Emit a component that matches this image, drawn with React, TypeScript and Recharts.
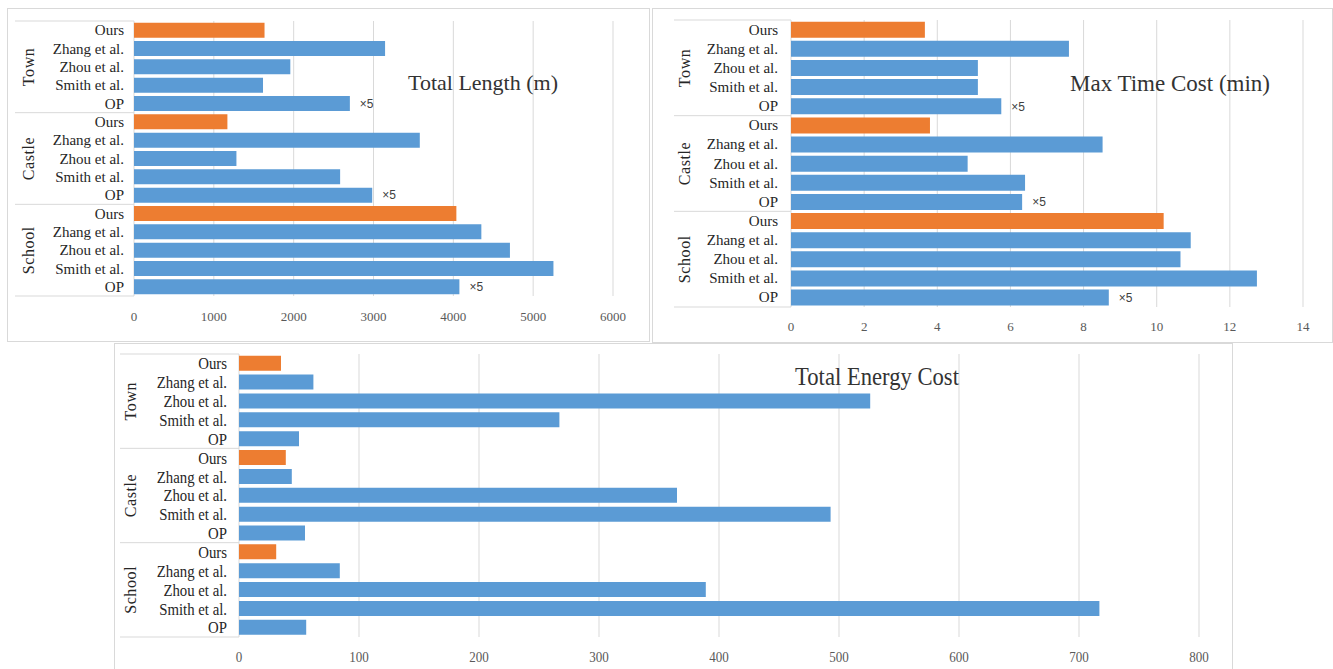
import React from "react";
import {
  BarChart,
  Bar,
  XAxis,
  YAxis,
  CartesianGrid,
  Cell,
  LabelList,
} from "recharts";

const scenes = ["Town", "Castle", "School"];
const methods = ["Ours", "Zhang et al.", "Zhou et al.", "Smith et al.", "OP"];

// one value per (scene, method), scene by scene, methods top to bottom
const totalLength = [
  1635, 3145, 1958, 1616, 2704,
  1170, 3580, 1283, 2582, 2984,
  4038, 4351, 4709, 5254, 4076,
];
const maxTimeCost = [
  3.66, 7.6, 5.11, 5.11, 5.75,
  3.8, 8.52, 4.83, 6.4, 6.32,
  10.19, 10.93, 10.65, 12.74, 8.69,
];
const totalEnergy = [
  35, 62, 526, 267, 50,
  39, 44, 365, 493, 55,
  31, 84, 389, 717, 56,
];

const lengthTicks = [0, 1000, 2000, 3000, 4000, 5000, 6000];
const timeTicks = [0, 2, 4, 6, 8, 10, 12, 14];
const energyTicks = [0, 100, 200, 300, 400, 500, 600, 700, 800];

// OP bars in the length / time charts are shown scaled down
const opNote = "×5";

const BLUE = "#5b9bd5";
const ORANGE = "#ed7d31";
const GRID = "#d9d9d9";
const SERIF = '"Liberation Serif", "Times New Roman", serif';
const X_AXIS_HEIGHT = 25;

function buildRows(values: number[], note: string) {
  return values.map((value, i) => {
    const scene = scenes[Math.floor(i / methods.length)];
    const method = methods[i % methods.length];
    return {
      key: `${scene}|${method}`,
      value,
      note: method === "OP" ? note : "",
    };
  });
}

function CategoryTick(props: any) {
  const { x, y, payload, step, axisRight, sepLeft, groupX, squeeze, fontSize } =
    props;
  const [scene, method] = String(payload.value).split("|");
  const pos = methods.indexOf(method);
  const isLast = scene === scenes[scenes.length - 1] && pos === methods.length - 1;
  return (
    <g>
      <text
        transform={`translate(${x},${y}) scale(${squeeze},1)`}
        textAnchor="end"
        dominantBaseline="central"
        fontFamily={SERIF}
        fontSize={fontSize}
        fill="#262626"
      >
        {method}
      </text>
      {pos === 0 && (
        <line
          x1={sepLeft}
          x2={axisRight}
          y1={y - step / 2}
          y2={y - step / 2}
          stroke={GRID}
        />
      )}
      {isLast && (
        <line
          x1={sepLeft}
          x2={axisRight}
          y1={y + step / 2}
          y2={y + step / 2}
          stroke={GRID}
        />
      )}
      {pos === 2 && (
        <text
          transform={`translate(${groupX},${y}) rotate(-90)`}
          textAnchor="middle"
          dominantBaseline="central"
          fontFamily={SERIF}
          fontSize={16}
          letterSpacing={0.6}
          fill="#262626"
        >
          {scene}
        </text>
      )}
    </g>
  );
}

function NumberTick(props: any) {
  const { x, y, payload, squeeze, fontSize } = props;
  return (
    <text
      transform={`translate(${x},${y}) scale(${squeeze},1)`}
      textAnchor="middle"
      dominantBaseline="central"
      fontFamily={SERIF}
      fontSize={fontSize}
      fill="#595959"
    >
      {payload.value}
    </text>
  );
}

interface PanelProps {
  left: number;
  top: number;
  width: number;
  height: number;
  values: number[];
  ticks: number[];
  note: string;
  title: string;
  titleX: number;
  titleY: number;
  titleSize: number;
  squeeze: number;
  labelSize: number;
  numberSize: number;
  margin: { top: number; right: number; bottom: number; left: number };
  yWidth: number;
  yGap: number;
  xGap: number;
  sepLeft: number;
  groupX: number;
}

function Panel(p: PanelProps) {
  const data = buildRows(p.values, p.note);
  const inner = { w: p.width - 2, h: p.height - 2 };
  const plotHeight = inner.h - p.margin.top - p.margin.bottom - X_AXIS_HEIGHT;
  const step = plotHeight / data.length;
  const axisRight = p.margin.left + p.yWidth;
  return (
    <div
      style={{
        position: "absolute",
        left: p.left,
        top: p.top,
        width: p.width,
        height: p.height,
        boxSizing: "border-box",
        border: `1px solid ${GRID}`,
        background: "#fff",
      }}
    >
      <BarChart
        width={inner.w}
        height={inner.h}
        data={data}
        layout="vertical"
        margin={p.margin}
        barCategoryGap="9%"
      >
        <CartesianGrid horizontal={false} stroke={GRID} />
        <XAxis
          type="number"
          domain={[0, p.ticks[p.ticks.length - 1]]}
          ticks={p.ticks}
          axisLine={false}
          tickLine={false}
          tickSize={0}
          tickMargin={p.xGap}
          height={X_AXIS_HEIGHT}
          interval={0}
          tick={(t: any) => (
            <NumberTick {...t} squeeze={p.squeeze} fontSize={p.numberSize} />
          )}
        />
        <YAxis
          type="category"
          dataKey="key"
          width={p.yWidth}
          axisLine={false}
          tickLine={false}
          tickSize={0}
          tickMargin={p.yGap}
          interval={0}
          tick={(t: any) => (
            <CategoryTick
              {...t}
              step={step}
              axisRight={axisRight}
              sepLeft={p.sepLeft}
              groupX={p.groupX}
              squeeze={p.squeeze}
              fontSize={p.labelSize}
            />
          )}
        />
        <Bar dataKey="value" isAnimationActive={false}>
          {data.map((row) => (
            <Cell
              key={row.key}
              fill={row.key.endsWith("|Ours") ? ORANGE : BLUE}
            />
          ))}
          <LabelList
            dataKey="note"
            position="right"
            offset={10}
            fill="#404040"
            fontSize={12}
            fontFamily='"Liberation Sans", Arial, sans-serif'
          />
        </Bar>
      </BarChart>
      <div
        style={{
          position: "absolute",
          left: p.titleX,
          top: p.titleY,
          transform: `translate(-50%, -50%) scaleX(${p.squeeze})`,
          fontFamily: SERIF,
          fontSize: p.titleSize,
          color: "#333",
          whiteSpace: "nowrap",
          lineHeight: 1,
        }}
      >
        {p.title}
      </div>
    </div>
  );
}

export default function App() {
  return (
    <div
      style={{
        position: "relative",
        width: 1333,
        height: 669,
        overflow: "hidden",
        background: "#fff",
      }}
    >
      <style>{"body{margin:0}"}</style>
      <Panel
        left={7}
        top={8}
        width={643}
        height={334}
        values={totalLength}
        ticks={lengthTicks}
        note={opNote}
        title="Total Length (m)"
        titleX={475}
        titleY={74}
        titleSize={22}
        squeeze={1}
        labelSize={15}
        numberSize={13}
        margin={{ top: 12, right: 36, bottom: 20, left: 0 }}
        yWidth={126}
        yGap={10}
        xGap={20}
        sepLeft={7}
        groupX={20}
      />
      <Panel
        left={652}
        top={8}
        width={681}
        height={335}
        values={maxTimeCost}
        ticks={timeTicks}
        note={opNote}
        title="Max Time Cost (min)"
        titleX={517}
        titleY={74}
        titleSize={23}
        squeeze={1}
        labelSize={15}
        numberSize={13}
        margin={{ top: 11, right: 29, bottom: 10, left: 0 }}
        yWidth={138}
        yGap={13}
        xGap={19}
        sepLeft={21}
        groupX={31}
      />
      <Panel
        left={114}
        top={343}
        width={1119}
        height={330}
        values={totalEnergy}
        ticks={energyTicks}
        note=""
        title="Total Energy Cost"
        titleX={762}
        titleY={33}
        titleSize={26}
        squeeze={0.87}
        labelSize={17}
        numberSize={15}
        margin={{ top: 10, right: 33, bottom: 10, left: 0 }}
        yWidth={124}
        yGap={12}
        xGap={20}
        sepLeft={5}
        groupX={15}
      />
    </div>
  );
}
